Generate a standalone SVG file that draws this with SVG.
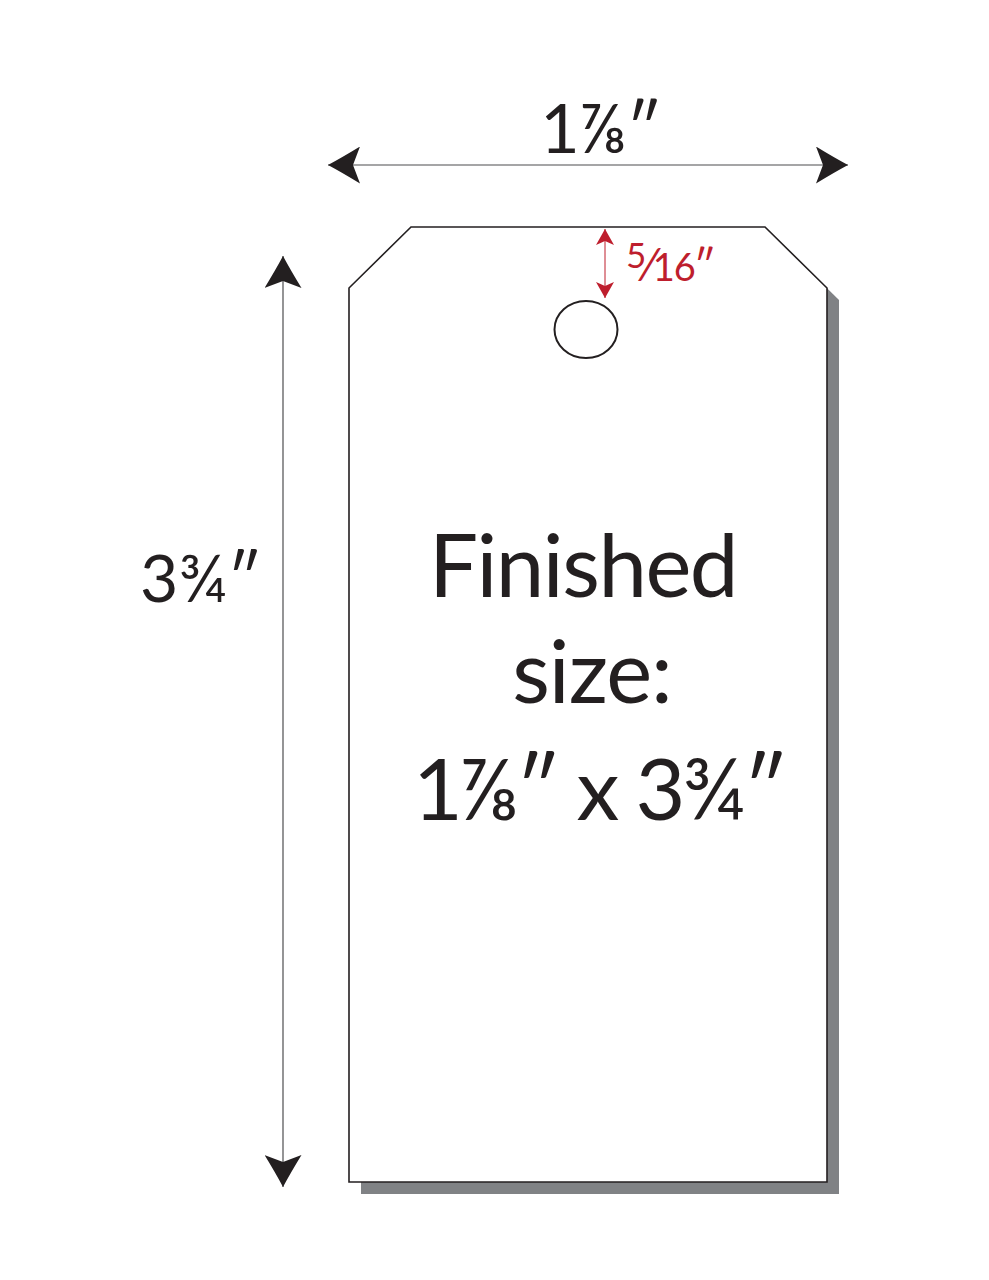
<svg xmlns="http://www.w3.org/2000/svg" width="989" height="1280" viewBox="0 0 989 1280">
  <style>
    .dim { fill: #231f20; font-family: Lato, "Noto Sans", "DejaVu Sans", sans-serif; }
    .red { fill: #be1e2d; font-family: Lato, "Noto Sans", "DejaVu Sans", sans-serif; }
    .dimline { stroke: #4d4d4f; stroke-width: 1.2; fill: none; }
    .redline { stroke: #be1e2d; stroke-width: 1; fill: none; }
    .outline { fill: #ffffff; stroke: #231f20; stroke-width: 1.6; stroke-linejoin: miter; }
  </style>
  <defs>
    <marker id="ah" markerUnits="userSpaceOnUse" viewBox="0 0 32 37" refX="32" refY="18.5" markerWidth="32" markerHeight="37" orient="auto-start-reverse">
      <path d="M0,0 Q18,11 32,18.5 Q18,26 0,37 L7,18.5 Z" fill="#231f20"/>
    </marker>
    <marker id="ahr" markerUnits="userSpaceOnUse" viewBox="0 0 16 18" refX="16" refY="9" markerWidth="16" markerHeight="18" orient="auto-start-reverse">
      <path d="M0,0 L16,9 L0,18 L4,9 Z" fill="#be1e2d"/>
    </marker>
  </defs>
  <rect width="989" height="1280" fill="#ffffff"/>

  <g id="tag">
    <path d="M423,239 L777,239 L839,300 L839,1194 L361,1194 L361,300 Z" fill="#808285"/>
    <path class="outline" d="M411,227 L765,227 L827,288 L827,1182 L349,1182 L349,288 Z"/>
  </g>

  <g id="hole">
    <ellipse cx="586" cy="329.5" rx="31.5" ry="28.5" fill="#ffffff" stroke="#231f20" stroke-width="2"/>
  </g>

  <g id="connectors">
    <line class="dimline" x1="328" y1="165" x2="848" y2="165" marker-start="url(#ah)" marker-end="url(#ah)"/>
    <line class="dimline" x1="283" y1="256" x2="283" y2="1187" marker-start="url(#ah)" marker-end="url(#ah)"/>
    <line class="redline" x1="605" y1="229" x2="605" y2="298" marker-start="url(#ahr)" marker-end="url(#ahr)"/>
  </g>

  <g id="width-label">
    <text class="dim" x="601" y="153" font-size="68" text-anchor="middle">1⅞″</text>
  </g>

  <g id="height-label">
    <text class="dim" x="201" y="602" font-size="66" text-anchor="middle">3¾″</text>
  </g>

  <g id="hole-label">
    <text class="red" x="626" y="281"><tspan font-size="35" dy="-13">5</tspan><tspan font-size="46" dy="13">⁄</tspan><tspan font-size="38" letter-spacing="-1">16</tspan><tspan font-size="42" dx="-1">″</tspan></text>
  </g>

  <g id="finished-label">
    <text class="dim" x="583" y="597" font-size="87" letter-spacing="-1.5" text-anchor="middle">Finished</text>
    <text class="dim" x="592" y="703" font-size="87" letter-spacing="-1" text-anchor="middle">size:</text>
    <text class="dim" x="599" y="820" font-size="86" letter-spacing="-3" text-anchor="middle">1⅞″ x 3¾″</text>
  </g>
</svg>
